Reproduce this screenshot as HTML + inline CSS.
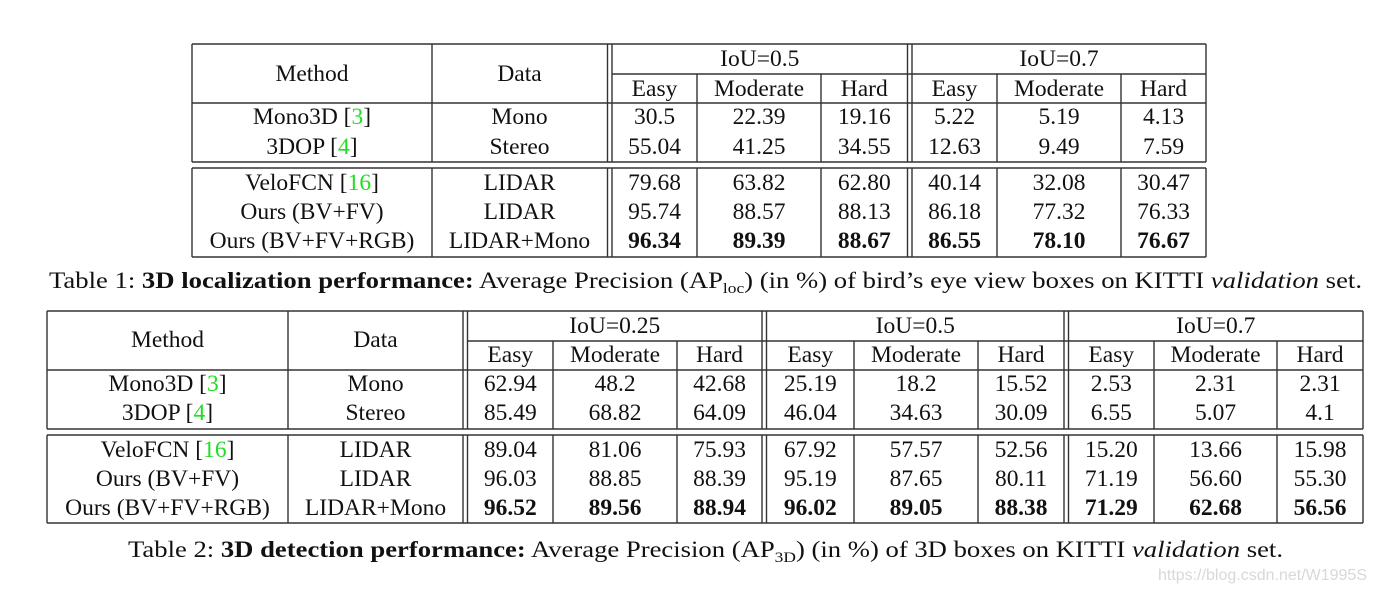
<!DOCTYPE html>
<html><head><meta charset="utf-8"><style>
html,body{margin:0;padding:0;background:#fff;}
svg{display:block;font-family:"Liberation Serif",serif;}
</style></head><body>
<svg id="s" width="1377" height="592" viewBox="0 0 1377 592" xmlns="http://www.w3.org/2000/svg">
<g id="lines" stroke="#333" stroke-width="1.4" fill="none"></g>
<g id="txt" font-size="23.5" text-anchor="middle" fill="#111"></g>
<text x="49" y="288" font-size="23" fill="#111" textLength="1313" lengthAdjust="spacingAndGlyphs">Table 1: <tspan font-weight="bold">3D localization performance:</tspan> Average Precision (AP<tspan font-size="15" dy="5">loc</tspan><tspan dy="-5">) (in %) of bird’s eye view boxes on KITTI </tspan><tspan font-style="italic">validation</tspan> set.</text>
<text x="128" y="557" font-size="23" fill="#111" textLength="1155" lengthAdjust="spacingAndGlyphs">Table 2: <tspan font-weight="bold">3D detection performance:</tspan> Average Precision (AP<tspan font-size="15" dy="5">3D</tspan><tspan dy="-5">) (in %) of 3D boxes on KITTI </tspan><tspan font-style="italic">validation</tspan> set.</text>
<text x="1367" y="580" font-size="16" fill="#d8d8d8" text-anchor="end" font-family="Liberation Sans, sans-serif">https://blog.csdn.net/W1995S</text>
</svg>
<script>
const methods = ["Mono3D [3]", "3DOP [4]", "VeloFCN [16]", "Ours (BV+FV)", "Ours (BV+FV+RGB)"];
const dataTypes = ["Mono", "Stereo", "LIDAR", "LIDAR", "LIDAR+Mono"];
const t1Iou = ["IoU=0.5", "IoU=0.7"];
const t2Iou = ["IoU=0.25", "IoU=0.5", "IoU=0.7"];
const levels = ["Easy", "Moderate", "Hard"];
const t1Values = [
 ["30.5","22.39","19.16","5.22","5.19","4.13"],
 ["55.04","41.25","34.55","12.63","9.49","7.59"],
 ["79.68","63.82","62.80","40.14","32.08","30.47"],
 ["95.74","88.57","88.13","86.18","77.32","76.33"],
 ["96.34","89.39","88.67","86.55","78.10","76.67"]];
const t2Values = [
 ["62.94","48.2","42.68","25.19","18.2","15.52","2.53","2.31","2.31"],
 ["85.49","68.82","64.09","46.04","34.63","30.09","6.55","5.07","4.1"],
 ["89.04","81.06","75.93","67.92","57.57","52.56","15.20","13.66","15.98"],
 ["96.03","88.85","88.39","95.19","87.65","80.11","71.19","56.60","55.30"],
 ["96.52","89.56","88.94","96.02","89.05","88.38","71.29","62.68","56.56"]];
const boldRow = 4;

const NS="http://www.w3.org/2000/svg";
const L=document.getElementById('lines'), T=document.getElementById('txt');
function ln(x1,y1,x2,y2,name){
 const e=document.createElementNS(NS,'line');
 e.setAttribute('x1',x1);e.setAttribute('y1',y1);e.setAttribute('x2',x2);e.setAttribute('y2',y2);
 
 
 L.appendChild(e);
}
function tx(x,y,s,name,bold){
 const e=document.createElementNS(NS,'text');
 e.setAttribute('x',x);e.setAttribute('y',y+8);
 if(bold)e.setAttribute('font-weight','bold');
 const m=s.match(/^(.*\[)(\d+)(\].*)$/);
 if(m){
  e.appendChild(document.createTextNode(m[1]));
  const g=document.createElementNS(NS,'tspan');g.setAttribute('fill','#22dd22');g.textContent=m[2];
  e.appendChild(g);
  e.appendChild(document.createTextNode(m[3]));
 } else e.textContent=s;
 
 
 T.appendChild(e);
}
function table(id,cfg,iou,vals){
 const {left,mcol,dcol,groups,cols,right,top,sub,hb,b1,b2,bot,iouY,lvY,hdY,rowY}=cfg;
 [[top,"top-border"],[hb,"header-bottom"],[b1,"block1-bottom"],[b2,"block2-top"],[bot,"bottom-border"]].forEach(([y,n])=>ln(left,y,right,y,id+'-'+n));
 ln(groups[0][0],sub,right,sub,id+'-subheader-line');
 [[top,b1],[b2,bot]].forEach(([a,b],k)=>{
  ln(left,a,left,b,id+'-left-border');ln(right,a,right,b,id+'-right-border');
  ln(mcol,a,mcol,b,id+'-method-divider');
  groups.forEach(g=>{ln(g[0]-4.5,a,g[0]-4.5,b,id+'-group-divider');ln(g[0],a,g[0],b,id+'-group-divider');});
  cols.forEach(c=>ln(c,k==0?sub:a,c,b,id+'-col-divider'));
 });
 tx((left+mcol)/2,hdY,"Method",id+'-method-header');
 tx((mcol+dcol)/2,hdY,"Data",id+'-data-header');
 const edges=[];
 groups.forEach((g,i)=>{
  const ge=g[1]; tx((g[0]+ge)/2,iouY,iou[i],id+'-iou-header');
  const inner=cols.filter(c=>c>g[0]&&c<ge);
  const e=[g[0],...inner,ge];
  for(let j=0;j<3;j++){edges.push([e[j],e[j+1]]);tx((e[j]+e[j+1])/2,lvY,levels[j],id+'-level-header');}
 });
 methods.forEach((m,r)=>{
  tx((left+mcol)/2,rowY[r],m,id+'-method-cell');
  tx((mcol+dcol)/2,rowY[r],dataTypes[r],id+'-data-cell');
  vals[r].forEach((v,c)=>tx((edges[c][0]+edges[c][1])/2,rowY[r],v,id+'-value-cell',r===boldRow));
 });
}
table('table1',{left:192,mcol:432,dcol:607,groups:[[612,907.5],[912,1206]],cols:[697,821,997,1121],right:1206,
 top:44,sub:74,hb:103,b1:162,b2:168,bot:257,iouY:58,lvY:88,hdY:73,rowY:[116,146,182,211,240]},t1Iou,t1Values);
table('table2',{left:47,mcol:288,dcol:463,groups:[[467.5,762],[766.5,1064],[1068.5,1363]],cols:[553,677,854,978,1154,1277],right:1363,
 top:311,sub:341,hb:370,b1:429,b2:435,bot:523,iouY:325,lvY:354,hdY:339,rowY:[383,412,449,478,507]},t2Iou,t2Values);
</script>
</body></html>
